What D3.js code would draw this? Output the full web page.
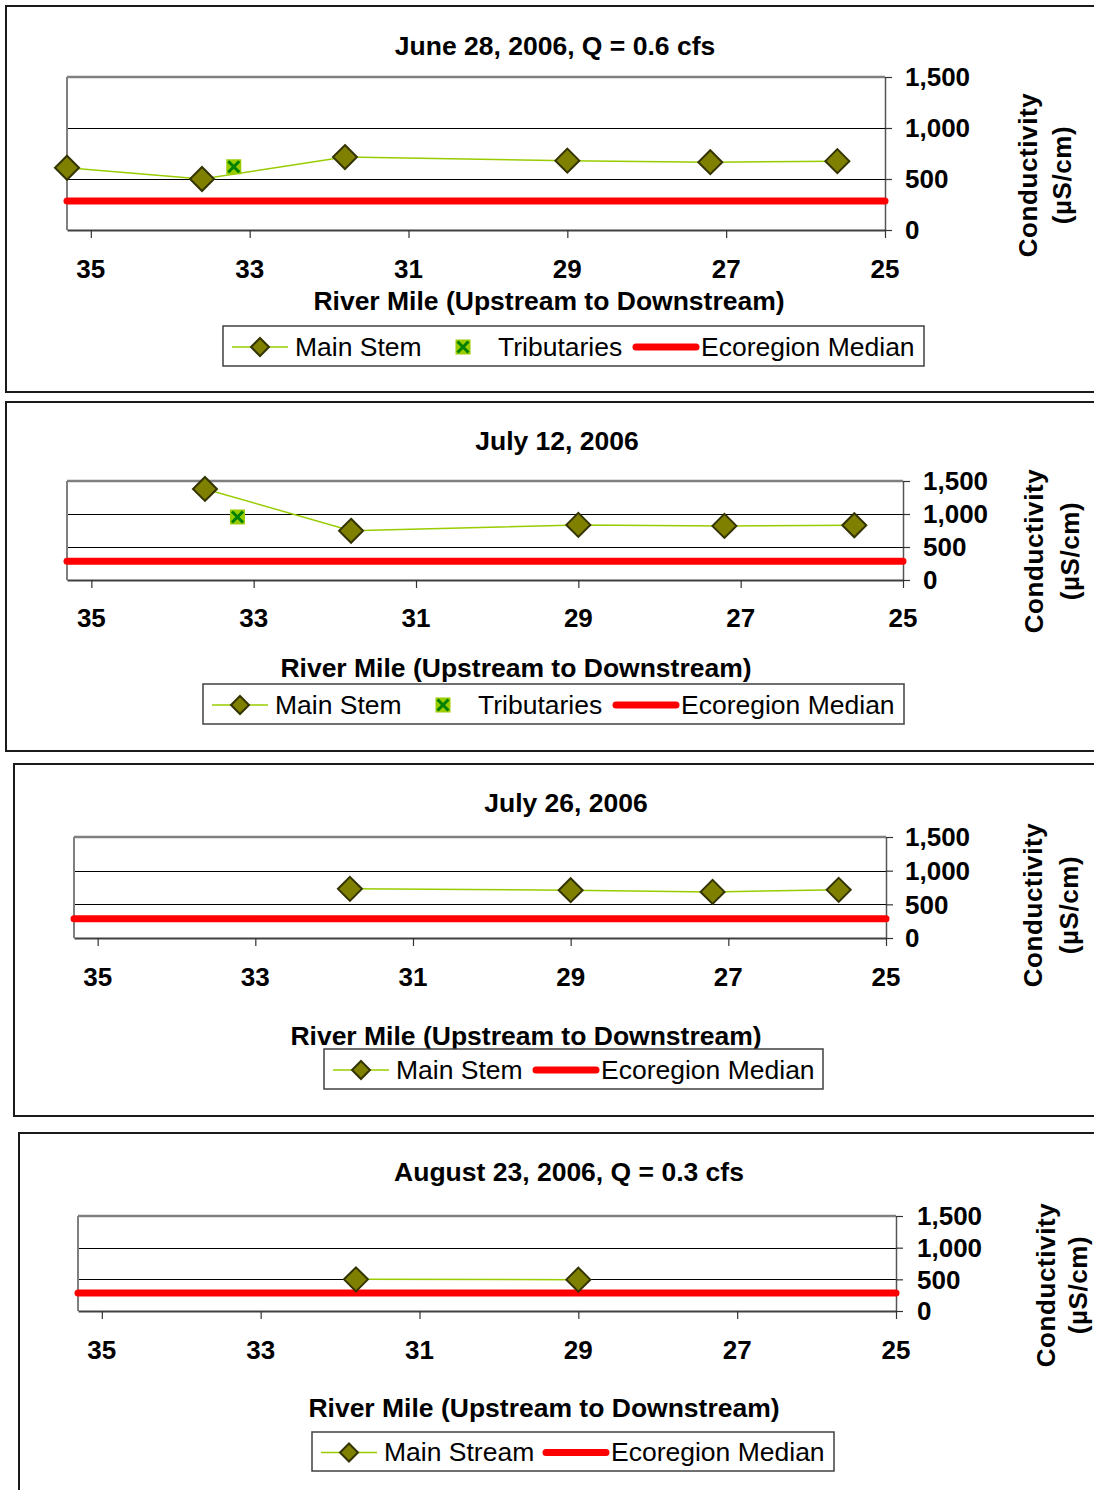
<!DOCTYPE html>
<html>
<head>
<meta charset="utf-8">
<script src="https://cdn.jsdelivr.net/npm/d3@7"></script>
<style>
  html, body { margin: 0; padding: 0; background: #fff; }
  svg { display: block; }
  text { font-family: "Liberation Sans", Arial, sans-serif; fill: #000; }
</style>
</head>
<body>
<div id="chart"></div>
<script>
// River mile axis ticks and conductivity axis ticks shared by all panels
const riverMileTicks = [35, 33, 31, 29, 27, 25];
const conductivityTicks = [0, 500, 1000, 1500];
const riverMileDomain = [35.3, 25];
const conductivityDomain = [0, 1500];

// June 28, 2006
const june28MainMiles = [35.3, 33.6, 31.8, 29.0, 27.2, 25.6];
const june28MainValues = [610, 500, 715, 680, 665, 675];
const june28TribMiles = [33.2];
const june28TribValues = [620];
const june28Median = 285;

// July 12, 2006
const july12MainMiles = [33.6, 31.8, 29.0, 27.2, 25.6];
const july12MainValues = [1380, 745, 835, 820, 830];
const july12TribMiles = [33.2];
const july12TribValues = [955];
const july12Median = 285;

// July 26, 2006
const july26MainMiles = [31.8, 29.0, 27.2, 25.6];
const july26MainValues = [730, 710, 685, 715];
const july26Median = 285;

// August 23, 2006
const aug23MainMiles = [31.8, 29.0];
const aug23MainValues = [500, 495];
const aug23Median = 285;

const titles = ["June 28, 2006, Q = 0.6 cfs", "July 12, 2006", "July 26, 2006", "August 23, 2006, Q = 0.3 cfs"];
const mainLabels = ["Main Stem", "Main Stem", "Main Stem", "Main Stream"];
const tribLabel = "Tributaries";
const medianLabel = "Ecoregion Median";
const xTitle = "River Mile (Upstream to Downstream)";
const yTitle = ["Conductivity", "(µS/cm)"];

const panels = [
  { title: titles[0], main: [june28MainMiles, june28MainValues], trib: [june28TribMiles, june28TribValues], median: june28Median, mainLabel: mainLabels[0],
    frame: { x: 6, y: 6, bottom: 392 },
    plot: { left: 67, right: 885, top: 77, bottom: 230 },
    titleX: 555, titleY: 46, tickLabelY: 269, xTitleX: 549, xTitleY: 300, tickLabelX: 905,
    yTitleX: [1028, 1062], yTitleY: 175,
    legend: { x: 223, y: 326, w: 701, h: 40 } },
  { title: titles[1], main: [july12MainMiles, july12MainValues], trib: [july12TribMiles, july12TribValues], median: july12Median, mainLabel: mainLabels[1],
    frame: { x: 6, y: 402, bottom: 751 },
    plot: { left: 67, right: 903, top: 481, bottom: 580 },
    titleX: 557, titleY: 441, tickLabelY: 618, xTitleX: 516, xTitleY: 667, tickLabelX: 923,
    yTitleX: [1034, 1070], yTitleY: 551,
    legend: { x: 203, y: 684, w: 701, h: 40 } },
  { title: titles[2], main: [july26MainMiles, july26MainValues], trib: null, median: july26Median, mainLabel: mainLabels[2],
    frame: { x: 14, y: 764, bottom: 1116 },
    plot: { left: 74, right: 886, top: 837, bottom: 938 },
    titleX: 566, titleY: 803, tickLabelY: 977, xTitleX: 526, xTitleY: 1035, tickLabelX: 905,
    yTitleX: [1033, 1069], yTitleY: 905,
    legend: { x: 324, y: 1049, w: 499, h: 40 } },
  { title: titles[3], main: [aug23MainMiles, aug23MainValues], trib: null, median: aug23Median, mainLabel: mainLabels[3],
    frame: { x: 19, y: 1133, bottom: 1520 },
    plot: { left: 78, right: 896, top: 1216, bottom: 1311 },
    titleX: 569, titleY: 1172, tickLabelY: 1350, xTitleX: 544, xTitleY: 1407, tickLabelX: 917,
    yTitleX: [1046, 1078], yTitleY: 1285,
    legend: { x: 312, y: 1432, w: 522, h: 39 } }
];

const COLORS = {
  mainLine: "#99cc00",
  diamondFill: "#808000",
  diamondStroke: "#333300",
  tribFill: "#99cc00",
  tribCross: "#008000",
  median: "#ff0000",
  grid: "#000000",
  plotEdge: "#808080"
};

const FONT = 26.5;

const svg = d3.select("#chart").append("svg")
  .attr("width", 1094).attr("height", 1490);

const diamond = (s) => `M0,${-s}L${s},0L0,${s}L${-s},0Z`;
const crisp = (v) => Math.round(v) + 0.5;

function drawTrib(g, cx, cy, s) {
  const m = g.append("g").attr("transform", `translate(${cx},${cy})`);
  m.append("rect").attr("x", -s).attr("y", -s).attr("width", 2 * s).attr("height", 2 * s)
    .attr("fill", COLORS.tribFill);
  m.append("path").attr("d", `M${-s + 2},${-s + 2}L${s - 2},${s - 2}M${s - 2},${-s + 2}L${-s + 2},${s - 2}`)
    .attr("stroke", COLORS.tribCross).attr("stroke-width", 3);
}

panels.forEach(p => {
  const g = svg.append("g");

  // panel frame
  g.append("rect")
    .attr("x", p.frame.x).attr("y", p.frame.y)
    .attr("width", 1200).attr("height", p.frame.bottom - p.frame.y)
    .attr("fill", "none").attr("stroke", "#1a1a1a").attr("stroke-width", 2);

  const x = d3.scaleLinear().domain(riverMileDomain).range([p.plot.left, p.plot.right]);
  const y = d3.scaleLinear().domain(conductivityDomain).range([p.plot.bottom, p.plot.top]);

  // title
  g.append("text").attr("x", p.titleX).attr("y", p.titleY)
    .attr("dy", "0.35em").attr("text-anchor", "middle")
    .attr("font-size", FONT).attr("font-weight", "bold").text(p.title);

  // gridlines at interior ticks
  g.append("g").selectAll("line").data(conductivityTicks.filter(t => t > 0 && t < 1500)).join("line")
    .attr("x1", p.plot.left).attr("x2", p.plot.right)
    .attr("y1", d => crisp(y(d))).attr("y2", d => crisp(y(d)))
    .attr("stroke", COLORS.grid).attr("stroke-width", 1);

  // plot area edges
  g.append("line").attr("x1", p.plot.left).attr("x2", p.plot.right)
    .attr("y1", y(1500)).attr("y2", y(1500))
    .attr("stroke", COLORS.plotEdge).attr("stroke-width", 2.5);
  g.append("line").attr("x1", p.plot.left).attr("x2", p.plot.left)
    .attr("y1", y(1500)).attr("y2", y(0))
    .attr("stroke", COLORS.plotEdge).attr("stroke-width", 2);

  // right-hand conductivity axis
  const yAxis = d3.axisRight(y).tickValues(conductivityTicks).tickSize(7).tickSizeOuter(0).tickFormat("");
  const ya = g.append("g").attr("transform", `translate(${p.plot.right},0)`).call(yAxis);
  ya.select(".domain").attr("stroke", "#555").attr("stroke-width", 1.5);
  ya.selectAll(".tick line").attr("stroke", "#333").attr("stroke-width", 1.2);
  g.append("g").selectAll("text").data(conductivityTicks).join("text")
    .attr("x", p.tickLabelX).attr("y", d => y(d)).attr("dy", "0.36em")
    .attr("font-size", 26).attr("font-weight", "bold")
    .text(d => d3.format(",")(d));

  // river mile axis
  const xAxis = d3.axisBottom(x).tickValues(riverMileTicks).tickSize(8).tickSizeOuter(0).tickFormat("");
  const xa = g.append("g").attr("transform", `translate(0,${p.plot.bottom})`).call(xAxis);
  xa.select(".domain").attr("stroke", "#404040").attr("stroke-width", 2);
  xa.selectAll(".tick line").attr("stroke", "#333").attr("stroke-width", 1.2);
  g.append("g").selectAll("text").data(riverMileTicks).join("text")
    .attr("x", d => x(d)).attr("y", p.tickLabelY).attr("dy", "0.36em")
    .attr("text-anchor", "middle").attr("font-size", 26).attr("font-weight", "bold")
    .text(d => d);

  // axis titles
  g.append("text").attr("x", p.xTitleX).attr("y", p.xTitleY)
    .attr("dy", "0.36em").attr("text-anchor", "middle")
    .attr("font-size", FONT).attr("font-weight", "bold").text(xTitle);
  yTitle.forEach((t, i) => {
    g.append("text")
      .attr("transform", `translate(${p.yTitleX[i]},${p.yTitleY}) rotate(-90)`)
      .attr("dy", "0.36em").attr("text-anchor", "middle")
      .attr("font-size", 26).attr("font-weight", "bold")
      .attr("letter-spacing", 0.6).text(t);
  });

  // ecoregion median
  g.append("line")
    .attr("x1", x(riverMileDomain[0])).attr("x2", x(riverMileDomain[1]))
    .attr("y1", y(p.median)).attr("y2", y(p.median))
    .attr("stroke", COLORS.median).attr("stroke-width", 7).attr("stroke-linecap", "round");

  // main stem series
  const mainPts = p.main[0].map((m, i) => [m, p.main[1][i]]);
  g.append("path").datum(mainPts)
    .attr("d", d3.line().x(d => x(d[0])).y(d => y(d[1])))
    .attr("fill", "none").attr("stroke", COLORS.mainLine).attr("stroke-width", 1.5);

  // tributaries
  if (p.trib) {
    p.trib[0].forEach((m, i) => drawTrib(g, x(m), y(p.trib[1][i]), 7.5));
  }

  g.append("g").selectAll("path").data(mainPts).join("path")
    .attr("transform", d => `translate(${x(d[0])},${y(d[1])})`)
    .attr("d", diamond(12))
    .attr("fill", COLORS.diamondFill).attr("stroke", COLORS.diamondStroke).attr("stroke-width", 2);

  // legend
  const L = p.legend;
  const lg = g.append("g").attr("transform", `translate(${L.x},${L.y})`);
  lg.append("rect").attr("width", L.w).attr("height", L.h)
    .attr("fill", "#fff").attr("stroke", "#404040").attr("stroke-width", 1.5);
  const cy = L.h / 2 + 1;
  lg.append("line").attr("x1", 9).attr("x2", 65).attr("y1", cy).attr("y2", cy)
    .attr("stroke", COLORS.mainLine).attr("stroke-width", 1.5);
  lg.append("path").attr("transform", `translate(37,${cy})`).attr("d", diamond(9))
    .attr("fill", COLORS.diamondFill).attr("stroke", COLORS.diamondStroke).attr("stroke-width", 2);
  lg.append("text").attr("x", 72).attr("y", cy - 1).attr("dy", "0.36em")
    .attr("font-size", FONT).text(p.mainLabel);
  let medX;
  if (p.trib) {
    drawTrib(lg, 240, cy, 7.5);
    lg.append("text").attr("x", 275).attr("y", cy - 1).attr("dy", "0.36em")
      .attr("font-size", FONT).text(tribLabel);
    medX = 413;
  } else {
    medX = p.mainLabel === "Main Stream" ? 234 : 212;
  }
  lg.append("line").attr("x1", medX).attr("x2", medX + 60).attr("y1", cy).attr("y2", cy)
    .attr("stroke", COLORS.median).attr("stroke-width", 7).attr("stroke-linecap", "round");
  lg.append("text").attr("x", medX + 65).attr("y", cy - 1).attr("dy", "0.36em")
    .attr("font-size", FONT).text(medianLabel);
});
</script>
</body>
</html>
